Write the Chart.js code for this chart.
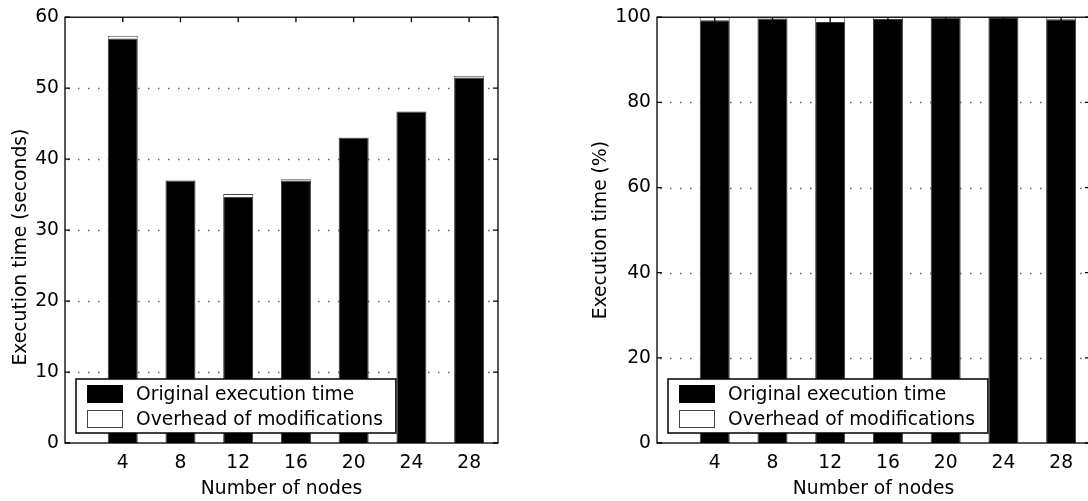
<!DOCTYPE html>
<html>
<head>
<meta charset="utf-8">
<script src="https://cdn.jsdelivr.net/npm/chart.js@4.4.1/dist/chart.umd.min.js"></script>
<style>
  html, body { margin: 0; padding: 0; background: #fff; overflow: hidden; width: 1088px; height: 501px; }
  canvas { position: absolute; top: 0; }
  #secondsChart { left: 0; }
  #percentChart { left: 540px; }
</style>
</head>
<body>
<canvas id="secondsChart" width="520" height="501"></canvas>
<canvas id="percentChart" width="560" height="501"></canvas>
<script>
// data
const nodes = [4, 8, 12, 16, 20, 24, 28];
const originalSeconds = [57.0, 37.0, 34.7, 37.0, 43.0, 46.7, 51.5];
const overheadSeconds = [0.4, 0.1, 0.4, 0.15, 0.05, 0.0, 0.25];
const originalPercent = [99.3, 99.7, 98.9, 99.6, 99.9, 100, 99.5];
const overheadPercent = [0.7, 0.3, 1.1, 0.4, 0.1, 0.0, 0.5];
const seriesLabels = ['Original execution time', 'Overhead of modifications'];

const FONT_FAMILY = 'DejaVu Sans';
const FONT_SIZE = 18.7;
const fontStr = FONT_SIZE + 'px "' + FONT_FAMILY + '"';

const toPoints = (values) => values.map((v, i) => ({ x: nodes[i], y: v }));

// grid dots, frame, inner tick marks, titles and the boxed legend
const framePlugin = {
    id: 'frame',
    beforeDatasetsDraw(chart) {
        const { ctx, chartArea: ca, scales: { y } } = chart;
        ctx.save();
        ctx.strokeStyle = '#666';
        ctx.lineWidth = 1.3;
        ctx.setLineDash([1.5, 8.5]);
        y.ticks.forEach((t) => {
            if (t.value === y.min || t.value === y.max) return;
            const py = Math.round(y.getPixelForValue(t.value)) + 0.5;
            ctx.beginPath();
            ctx.moveTo(ca.left + 3, py);
            ctx.lineTo(ca.right, py);
            ctx.stroke();
        });
        ctx.restore();
    },
    afterDatasetsDraw(chart, args, opts) {
        const { ctx, chartArea: ca, scales: { x, y } } = chart;
        ctx.save();
        ctx.strokeStyle = '#000';
        ctx.lineWidth = 1.3;
        ctx.strokeRect(ca.left, ca.top, ca.right - ca.left, ca.bottom - ca.top);

        const tick = 5;
        ctx.beginPath();
        y.ticks.forEach((t) => {
            const py = y.getPixelForValue(t.value);
            ctx.moveTo(ca.left, py); ctx.lineTo(ca.left + tick, py);
            ctx.moveTo(ca.right, py); ctx.lineTo(ca.right - tick, py);
        });
        x.ticks.forEach((t) => {
            const px = x.getPixelForValue(t.value);
            ctx.moveTo(px, ca.top); ctx.lineTo(px, ca.top + tick);
            ctx.moveTo(px, ca.bottom); ctx.lineTo(px, ca.bottom - tick);
        });
        ctx.stroke();

        // axis titles
        ctx.fillStyle = '#000';
        ctx.font = fontStr;
        ctx.textAlign = 'center';
        ctx.textBaseline = 'middle';
        ctx.fillText(opts.xTitle, (ca.left + ca.right) / 2, ca.bottom + 46);
        ctx.save();
        ctx.translate(ca.left - opts.yTitleOffset, (ca.top + ca.bottom) / 2 + opts.yTitleShift);
        ctx.rotate(-Math.PI / 2);
        ctx.fillText(opts.yTitle, 0, 0);
        ctx.restore();

        // legend
        const datasets = chart.data.datasets;
        const textW = Math.max(...datasets.map((d) => ctx.measureText(d.label).width));
        const w = 60 + textW + 13;
        const h = 54;
        const lx = ca.left + 11;
        const ly = ca.bottom - 10 - h;
        ctx.fillStyle = '#fff';
        ctx.fillRect(lx, ly, w, h);
        ctx.lineWidth = 1.5;
        ctx.strokeStyle = '#000';
        ctx.strokeRect(lx, ly, w, h);
        datasets.forEach((d, i) => {
            const cy = ly + 15 + i * 25;
            ctx.fillStyle = d.backgroundColor;
            ctx.fillRect(lx + 11, cy - 9, 36, 18);
            ctx.strokeStyle = i === 0 ? '#000' : '#444';
            ctx.lineWidth = 1;
            ctx.strokeRect(lx + 11.5, cy - 8.5, 35, 17);
            ctx.fillStyle = '#000';
            ctx.textAlign = 'left';
            ctx.fillText(d.label, lx + 60, cy + 1);
        });
        ctx.restore();
    },
};

function makeConfig(orig, over, yMax, yStep, yWidth, padRight, yTitle, yTitleOffset, yTitleShift) {
    return {
        type: 'bar',
        data: {
            datasets: [
                {
                    label: seriesLabels[0],
                    data: toPoints(orig),
                    backgroundColor: '#000',
                    borderColor: '#3a3a3a',
                    borderWidth: 1,
                },
                {
                    label: seriesLabels[1],
                    data: toPoints(over),
                    backgroundColor: '#fff',
                    borderColor: '#444',
                    borderWidth: 1,
                },
            ],
        },
        options: {
            responsive: false,
            animation: false,
            events: [],
            categoryPercentage: 0.52,
            barPercentage: 1,
            layout: { padding: { top: 12, right: padRight, left: 0, bottom: 0 } },
            scales: {
                x: {
                    type: 'linear',
                    min: 0,
                    max: 30,
                    offset: false,
                    stacked: true,
                    grid: { display: false, drawTicks: false, offset: false },
                    border: { display: false },
                    ticks: {
                        color: '#000',
                        font: { family: FONT_FAMILY, size: FONT_SIZE },
                        padding: 9,
                        maxRotation: 0,
                        autoSkip: false,
                    },
                    afterBuildTicks: (scale) => {
                        scale.ticks = nodes.map((v) => ({ value: v }));
                    },
                    afterFit: (scale) => {
                        scale.height = 58;
                    },
                },
                y: {
                    min: 0,
                    max: yMax,
                    stacked: true,
                    grid: { display: false, drawTicks: false },
                    border: { display: false },
                    ticks: {
                        stepSize: yStep,
                        color: '#000',
                        font: { family: FONT_FAMILY, size: FONT_SIZE },
                        padding: 6,
                    },
                    afterFit: (scale) => {
                        scale.width = yWidth;
                    },
                },
            },
            plugins: {
                legend: { display: false },
                tooltip: { enabled: false },
                frame: {
                    xTitle: 'Number of nodes',
                    yTitle: yTitle,
                    yTitleOffset: yTitleOffset,
                    yTitleShift: yTitleShift,
                },
            },
        },
        plugins: [framePlugin],
    };
}

new Chart(document.getElementById('secondsChart'),
    makeConfig(originalSeconds, overheadSeconds, 60, 10, 65, 22, 'Execution time (seconds)', 44, 17));
new Chart(document.getElementById('percentChart'),
    makeConfig(originalPercent, overheadPercent, 100, 20, 117, 10, 'Execution time (%)', 56, 0));
</script>
</body>
</html>
